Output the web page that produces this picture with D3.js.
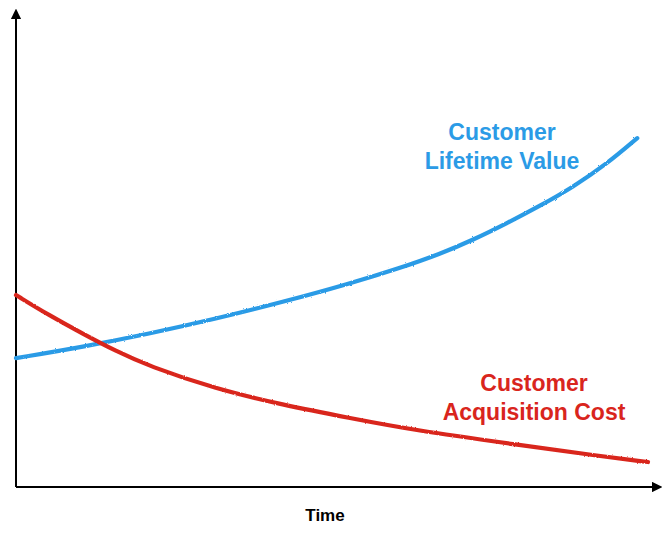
<!DOCTYPE html>
<html>
<head>
<meta charset="utf-8">
<script src="https://cdn.jsdelivr.net/npm/d3@7"></script>
<style>
  body { margin: 0; background: #fff; }
  svg { display: block; }
  text { font-family: "Liberation Sans", Arial, Helvetica, sans-serif; font-weight: bold; }
</style>
</head>
<body>
<div id="chart"></div>
<script>
// time on a 0-100 scale, values on a 0-100 scale (no units in the original)
const ltvTime = [0, 10.6, 21.0, 31.6, 42.2, 52.7, 60.8, 67.1, 72.3, 77.7, 82.9, 88.1, 93.5, 98.3];
const ltvValues = [27.6, 30.0, 32.8, 36.0, 39.6, 43.5, 46.9, 49.9, 52.9, 56.5, 60.2, 64.2, 69.2, 74.7];

const cacTime = [0, 5.2, 10.6, 15.8, 21.0, 31.6, 42.2, 52.7, 62.8, 79.7, 92.4, 100];
const cacValues = [41.1, 36.8, 32.8, 29.1, 25.9, 21.0, 17.6, 14.8, 12.2, 9.0, 6.6, 5.35];

const seriesNames = [['Customer', 'Lifetime Value'], ['Customer', 'Acquisition Cost']];
const axisTitle = 'Time';

const width = 672, height = 536;
const margin = { top: 20, right: 24, bottom: 49, left: 16 };

const svg = d3.select('#chart')
    .append('svg')
    .attr('width', width)
    .attr('height', height);

const x = d3.scaleLinear()
    .domain([0, 100])
    .range([margin.left, width - margin.right]);

const y = d3.scaleLinear()
    .domain([0, 100])
    .range([height - margin.bottom, margin.top]);

// arrow marker and a bit of crayon roughness for the curves
const defs = svg.append('defs');
defs.append('marker')
    .attr('id', 'arrow')
    .attr('viewBox', '0 0 10 10')
    .attr('refX', 1)
    .attr('refY', 5)
    .attr('markerWidth', 5.2)
    .attr('markerHeight', 5.2)
    .attr('markerUnits', 'strokeWidth')
    .attr('orient', 'auto')
    .append('path')
    .attr('d', 'M0,0 L10,5 L0,10 Z')
    .attr('fill', '#000');

const rough = defs.append('filter')
    .attr('id', 'rough')
    .attr('x', '-5%').attr('y', '-5%')
    .attr('width', '110%').attr('height', '110%');
rough.append('feTurbulence')
    .attr('type', 'fractalNoise')
    .attr('baseFrequency', 0.9)
    .attr('numOctaves', 2)
    .attr('result', 'noise');
rough.append('feDisplacementMap')
    .attr('in', 'SourceGraphic')
    .attr('in2', 'noise')
    .attr('scale', 2.2);

// axes (no ticks, just arrows)
const x0 = x.range()[0], y0 = y.range()[0];
svg.append('line')
    .attr('x1', x0).attr('y1', y0)
    .attr('x2', x0).attr('y2', y.range()[1] - 2)
    .attr('stroke', '#000')
    .attr('stroke-width', 2)
    .attr('marker-end', 'url(#arrow)');

svg.append('line')
    .attr('x1', x0).attr('y1', y0)
    .attr('x2', x.range()[1] + 5).attr('y2', y0)
    .attr('stroke', '#000')
    .attr('stroke-width', 2)
    .attr('marker-end', 'url(#arrow)');

svg.append('text')
    .attr('x', 325)
    .attr('y', 521)
    .attr('text-anchor', 'middle')
    .style('font-size', '17px')
    .style('fill', '#000')
    .text(axisTitle);

// curves
const line = d3.line()
    .x(d => x(d[0]))
    .y(d => y(d[1]))
    .curve(d3.curveBasis);

const series = [
    { pts: d3.zip(ltvTime, ltvValues), color: '#2b9be6', label: seriesNames[0], lx: 502, ly: 140 },
    { pts: d3.zip(cacTime, cacValues), color: '#d9251d', label: seriesNames[1], lx: 534, ly: 391 }
];

series.forEach(s => {
    svg.append('path')
        .datum(s.pts)
        .attr('d', line)
        .attr('fill', 'none')
        .attr('stroke', s.color)
        .attr('stroke-width', 4.2)
        .attr('stroke-linecap', 'round')
        .attr('filter', 'url(#rough)');

    const t = svg.append('text')
        .attr('text-anchor', 'middle')
        .style('font-size', '23px')
        .style('fill', s.color);
    s.label.forEach((l, i) => {
        t.append('tspan')
            .attr('x', s.lx)
            .attr('y', s.ly + i * 28.5)
            .text(l);
    });
});
</script>
</body>
</html>
